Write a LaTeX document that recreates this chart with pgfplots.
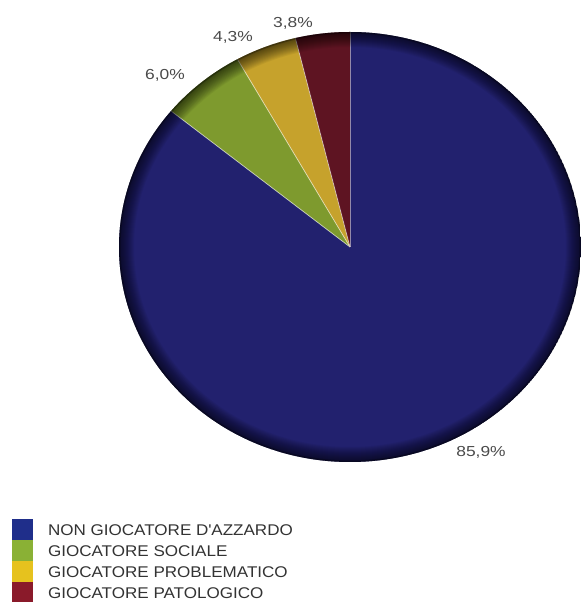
\documentclass[border=0pt]{standalone}
\usepackage{pgfplots}
\pgfplotsset{compat=1.18}
\usepackage{pgfplotstable}
\usepackage{fontspec}
\setmainfont{Liberation Sans}
\newfontfamily\legfont[FakeStretch=1.1]{Liberation Sans}
\newfontfamily\labfont[FakeStretch=1.2]{Liberation Sans}

\definecolor{pieNavy}{HTML}{22216E}
\definecolor{pieGreen}{HTML}{7E9A2E}
\definecolor{pieYellow}{HTML}{C6A22C}
\definecolor{pieRed}{HTML}{5E1422}
\definecolor{legNavy}{HTML}{1F2E8A}
\definecolor{legGreen}{HTML}{8AB135}
\definecolor{legYellow}{HTML}{E6C21E}
\definecolor{legRed}{HTML}{8A1A2A}
\definecolor{labgrey}{HTML}{4A4A4A}
\definecolor{legtext}{HTML}{333333}

% share in %, slice colour, label position (picture units, y up)
\pgfplotstableread{
share  fill       lx   ly
85.9   pieNavy    481  150
6.0    pieGreen   165  527
4.3    pieYellow  233  565
3.8    pieRed     293  579
}\piedata

\begin{document}
\begin{tikzpicture}
\begin{axis}[
    scale only axis,
    width=581bp, height=602bp,
    xmin=0, xmax=581, ymin=0, ymax=602,
    hide axis,
    legend style={at={(0.0207,0.1379)}, anchor=north west, draw=none, fill=none,
        inner sep=0pt, outer sep=0pt, row sep=0bp, column sep=15bp,
        font=\legfont\fontsize{15.5bp}{18bp}\selectfont, text=legtext,
        nodes={inner sep=0pt}},
    legend cell align=left,
    legend image code/.code={\fill[#1, draw=none] (0bp,-9bp) rectangle (21bp,12bp);},
]
\addlegendimage{fill=legNavy}
\addlegendentry{NON GIOCATORE D\textquotesingle AZZARDO}
\addlegendimage{fill=legGreen}
\addlegendentry{GIOCATORE SOCIALE}
\addlegendimage{fill=legYellow}
\addlegendentry{GIOCATORE PROBLEMATICO}
\addlegendimage{fill=legRed}
\addlegendentry{GIOCATORE PATOLOGICO}

\pgfplotsextra{
  \begin{scope}
    \clip (axis cs:350,355) ellipse [x radius=231bp, y radius=215bp];
    \gdef\angA{90}
    \foreach \i in {0,...,3}{
      \pgfplotstablegetelem{\i}{share}\of\piedata \let\val\pgfplotsretval
      \pgfplotstablegetelem{\i}{fill}\of\piedata \let\col\pgfplotsretval
      \pgfmathsetmacro\angB{\angA-3.6*\val}
      \fill[\col] (axis cs:350,355) -- (axis cs:{350+231*cos(\angA)},{355+215*sin(\angA)})
        arc[start angle=\angA, end angle=\angB, x radius=231bp, y radius=215bp] -- cycle;
      \draw[white, opacity=0.55, line width=0.8bp] (axis cs:350,355)
        -- (axis cs:{350+231*cos(\angA)},{355+215*sin(\angA)});
      \xdef\angA{\angB}
    }
    % darker rim
    \foreach \w in {2,4,...,30}{
      \draw[black, opacity=0.05, line width=\w bp] (axis cs:350,355) ellipse [x radius=231bp, y radius=215bp];
    }
    \draw[black, opacity=0.25, line width=3bp] (axis cs:350,355) ellipse [x radius=231bp, y radius=215bp];
  \end{scope}
  \foreach \i in {0,...,3}{
    \pgfplotstablegetelem{\i}{share}\of\piedata \let\val\pgfplotsretval
    \pgfplotstablegetelem{\i}{lx}\of\piedata \let\lx\pgfplotsretval
    \pgfplotstablegetelem{\i}{ly}\of\piedata \let\ly\pgfplotsretval
    \node[font=\labfont\fontsize{14.5bp}{16bp}\selectfont, text=labgrey, inner sep=0pt]
      at (axis cs:\lx,\ly)
      {\pgfmathprintnumber[fixed, fixed zerofill, precision=1, use comma, assume math mode=true]{\val}\%};
  }
}
\end{axis}
\pgfresetboundingbox
\path (current axis.south west) rectangle (current axis.north east);
\end{tikzpicture}
\end{document}
